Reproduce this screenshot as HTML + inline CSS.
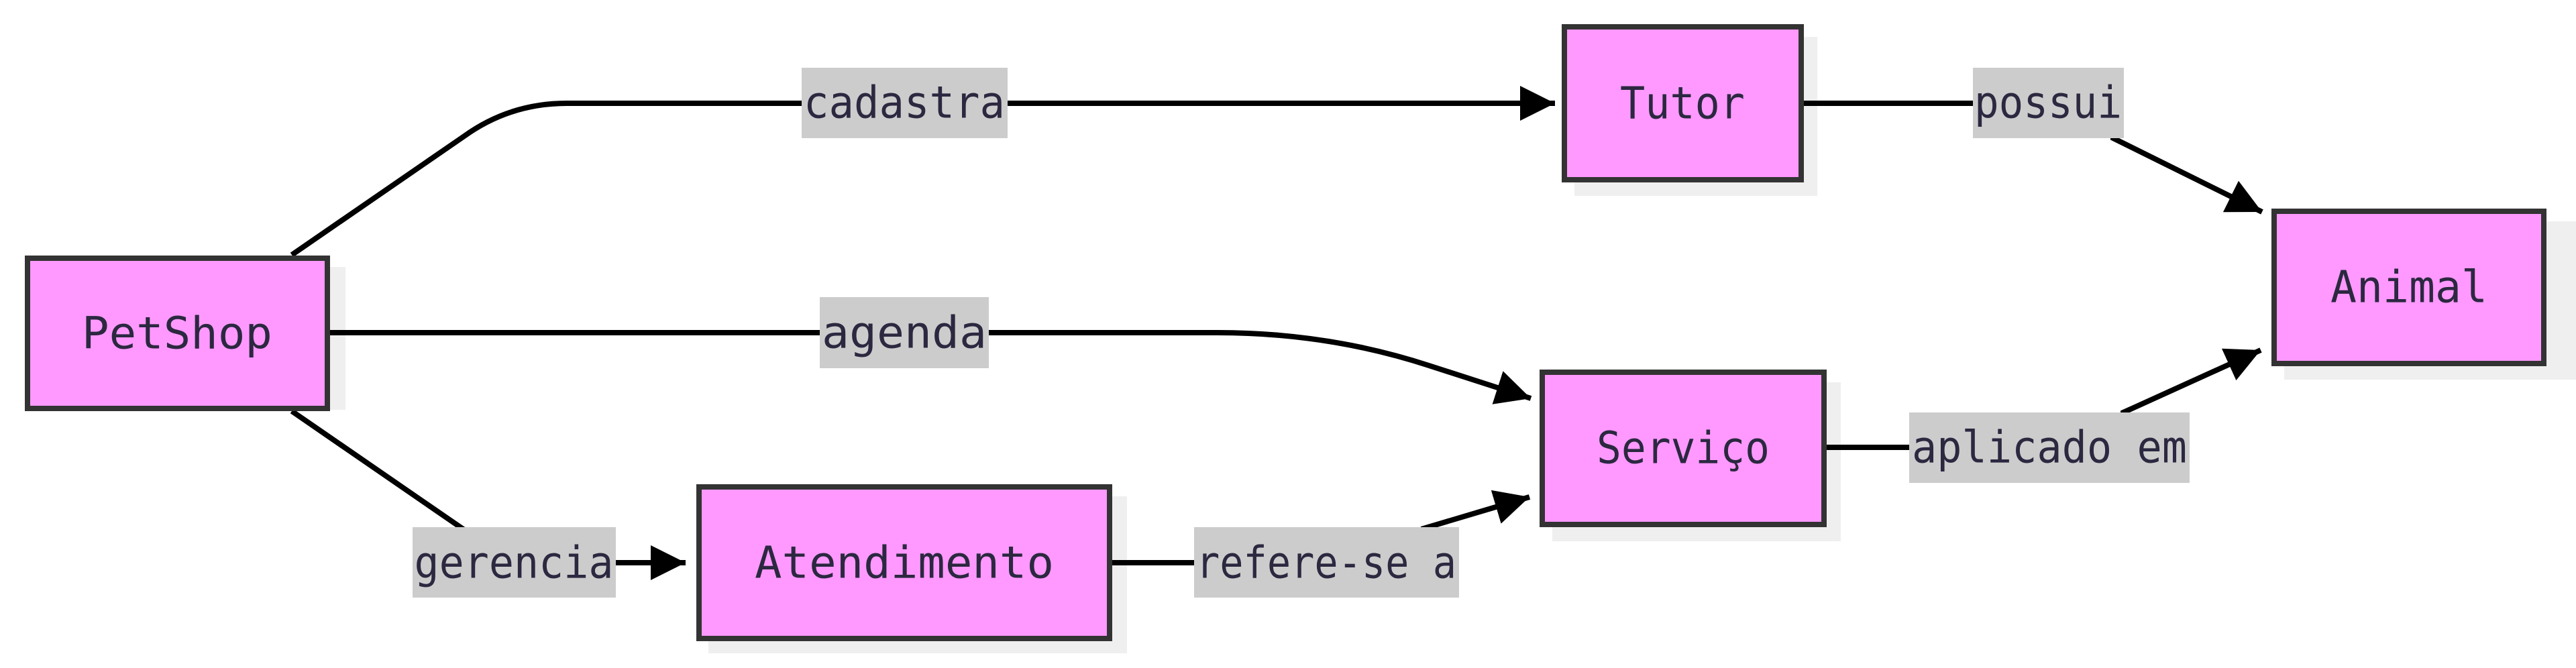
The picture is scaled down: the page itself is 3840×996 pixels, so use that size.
<!DOCTYPE html>
<html><head><meta charset="utf-8"><style>
html,body{margin:0;padding:0;background:#fff;}
svg{display:block}
text{font-family:"DejaVu Sans Mono","Liberation Mono",monospace;font-size:66px;fill:#2b2840;text-anchor:middle;dominant-baseline:central}
</style></head><body>
<svg width="3840" height="996" viewBox="0 0 3840 996" xmlns="http://www.w3.org/2000/svg">
<defs>
<marker id="a" viewBox="0 0 10 10" refX="10" refY="5" markerWidth="52" markerHeight="58" markerUnits="userSpaceOnUse" orient="auto">
<path d="M0,0 L10,5 L0,10 z" fill="#000"/></marker>
</defs>
<g fill="#efefef">
<rect x="55" y="398" width="460" height="213"/>
<rect x="1056" y="740" width="624" height="234"/>
<rect x="2347" y="55" width="362" height="237"/>
<rect x="2314" y="570" width="430" height="237"/>
<rect x="3405" y="330" width="435" height="236"/>
</g>
<g fill="none" stroke="#000" stroke-width="8">
<path d="M435,380 L692,203 Q760,154 845,154 L2318,154" marker-end="url(#a)"/>
<path d="M490,496 L1815,496 Q1980,496 2130,545 L2282,594" marker-end="url(#a)"/>
<path d="M435,613 L692,790 L692,839 L1022,839" marker-end="url(#a)"/>
<path d="M1658,839 L2122,839 L2122,788 L2280,741" marker-end="url(#a)"/>
<path d="M2689,154 L3150,154 L3150,206 L3372,316" marker-end="url(#a)"/>
<path d="M2723,667 L3165,667 L3165,615 L3370,522" marker-end="url(#a)"/>
</g>
<g fill="#ccc">
<rect x="1195" y="101" width="307" height="105"/>
<rect x="1222" y="443" width="252" height="106"/>
<rect x="615" y="786" width="303" height="105"/>
<rect x="1780" y="786" width="395" height="105"/>
<rect x="2941" y="101" width="225" height="105"/>
<rect x="2846" y="615" width="418" height="105"/>
</g>
<text x="1348" y="153" textLength="300" lengthAdjust="spacingAndGlyphs">cadastra</text>
<text x="1348" y="496" textLength="246" lengthAdjust="spacingAndGlyphs">agenda</text>
<text x="766" y="839" textLength="297" lengthAdjust="spacingAndGlyphs">gerencia</text>
<text x="1977" y="839" textLength="388" lengthAdjust="spacingAndGlyphs">refere-se a</text>
<text x="3053" y="153" textLength="220" lengthAdjust="spacingAndGlyphs">possui</text>
<text x="3055" y="667" textLength="410" lengthAdjust="spacingAndGlyphs">aplicado em</text>
<g fill="#ff99ff" stroke="#333" stroke-width="8">
<rect x="41" y="385" width="447" height="224"/>
<rect x="1042" y="726" width="612" height="226"/>
<rect x="2332" y="40" width="353" height="228"/>
<rect x="2299" y="555" width="420" height="227"/>
<rect x="3390" y="315" width="402" height="227"/>
</g>
<text x="264" y="497" textLength="284" lengthAdjust="spacingAndGlyphs">PetShop</text>
<text x="1348" y="839" textLength="446" lengthAdjust="spacingAndGlyphs">Atendimento</text>
<text x="2508" y="154" textLength="186" lengthAdjust="spacingAndGlyphs">Tutor</text>
<text x="2509" y="668" textLength="258" lengthAdjust="spacingAndGlyphs">Serviço</text>
<text x="3591" y="428" textLength="234" lengthAdjust="spacingAndGlyphs">Animal</text>
</svg>
</body></html>
